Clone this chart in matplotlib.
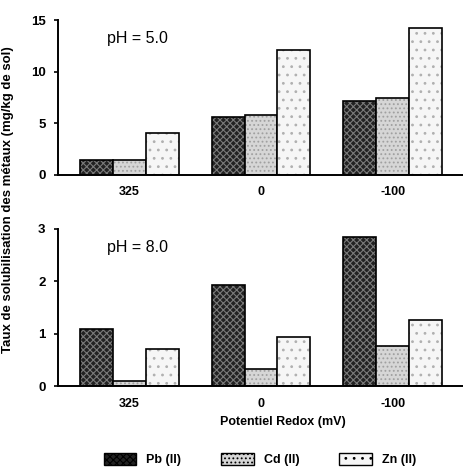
import matplotlib
matplotlib.use("Agg")
import matplotlib.pyplot as plt
import numpy as np
from matplotlib.patches import Patch

categories = ["325", "0", "-100"]
metals = ["Pb (II)", "Cd (II)", "Zn (II)"]
ph5_pb = [1.4, 5.6, 7.2]
ph5_cd = [1.4, 5.8, 7.5]
ph5_zn = [4.1, 12.1, 14.2]
ph8_pb = [1.1, 1.93, 2.85]
ph8_cd = [0.1, 0.33, 0.77]
ph8_zn = [0.72, 0.95, 1.27]

# face colour, hatch pattern, hatch colour for each metal
styles = [
    ("#222222", "xxxxx", "#7a7a7a"),
    ("#d6d6d6", "....", "#a0a0a0"),
    ("#f6f6f6", "..", "#b0b0b0"),
]

plt.rcParams["font.family"] = ["Liberation Sans", "DejaVu Sans"]
plt.rcParams["font.weight"] = "bold"
plt.rcParams["hatch.linewidth"] = 0.8

fig = plt.figure(figsize=(4.64, 4.69), dpi=100)
ax1 = fig.add_axes([0.125, 0.627, 0.875, 0.330])
ax2 = fig.add_axes([0.125, 0.176, 0.875, 0.336])

x = np.arange(len(categories))
w = 0.25


def draw(ax, series, ymax, yticks, title):
    for i, vals in enumerate(series):
        fc, hatch, hc = styles[i]
        pos = x + (i - 1) * w
        ax.bar(pos, vals, w, color=fc, edgecolor=hc, hatch=hatch, linewidth=0)
        ax.bar(pos, vals, w, fill=False, edgecolor="black", linewidth=1.2)
    ax.set_xlim(-0.54, 2.54)
    ax.set_ylim(0, ymax)
    ax.set_yticks(yticks)
    ax.set_xticks(x)
    ax.set_xticklabels(categories)
    for s in ("top", "right"):
        ax.spines[s].set_visible(False)
    for s in ("left", "bottom"):
        ax.spines[s].set_linewidth(1.4)
    ax.tick_params(axis="y", length=3, width=1.2, labelsize=9.5, pad=6)
    ax.tick_params(axis="x", length=0, labelsize=9, pad=8)
    ax.text(0.12, 0.88, title, transform=ax.transAxes, fontsize=11.5,
            fontweight="normal", va="center")


draw(ax1, [ph5_pb, ph5_cd, ph5_zn], 15, [0, 5, 10, 15], "pH = 5.0")
draw(ax2, [ph8_pb, ph8_cd, ph8_zn], 3, [0, 1, 2, 3], "pH = 8.0")

fig.text(0.018, 0.575, "Taux de solubilisation des métaux (mg/kg de sol)",
         rotation=90, va="center", ha="center", fontsize=9.5, fontweight="bold")
fig.text(0.61, 0.1, "Potentiel Redox (mV)", ha="center", va="center",
         fontsize=9, fontweight="bold")

handles = [Patch(facecolor=styles[i][0], edgecolor="black", hatch=styles[i][1],
                 linewidth=1.0, label=metals[i]) for i in range(3)]
fig.legend(handles=handles, loc="center", bbox_to_anchor=(0.56, 0.02), ncol=3,
           frameon=False, fontsize=9, handlelength=2.6, handleheight=1.1,
           columnspacing=3.2, handletextpad=0.8)

fig.savefig("out.png", dpi=100)
